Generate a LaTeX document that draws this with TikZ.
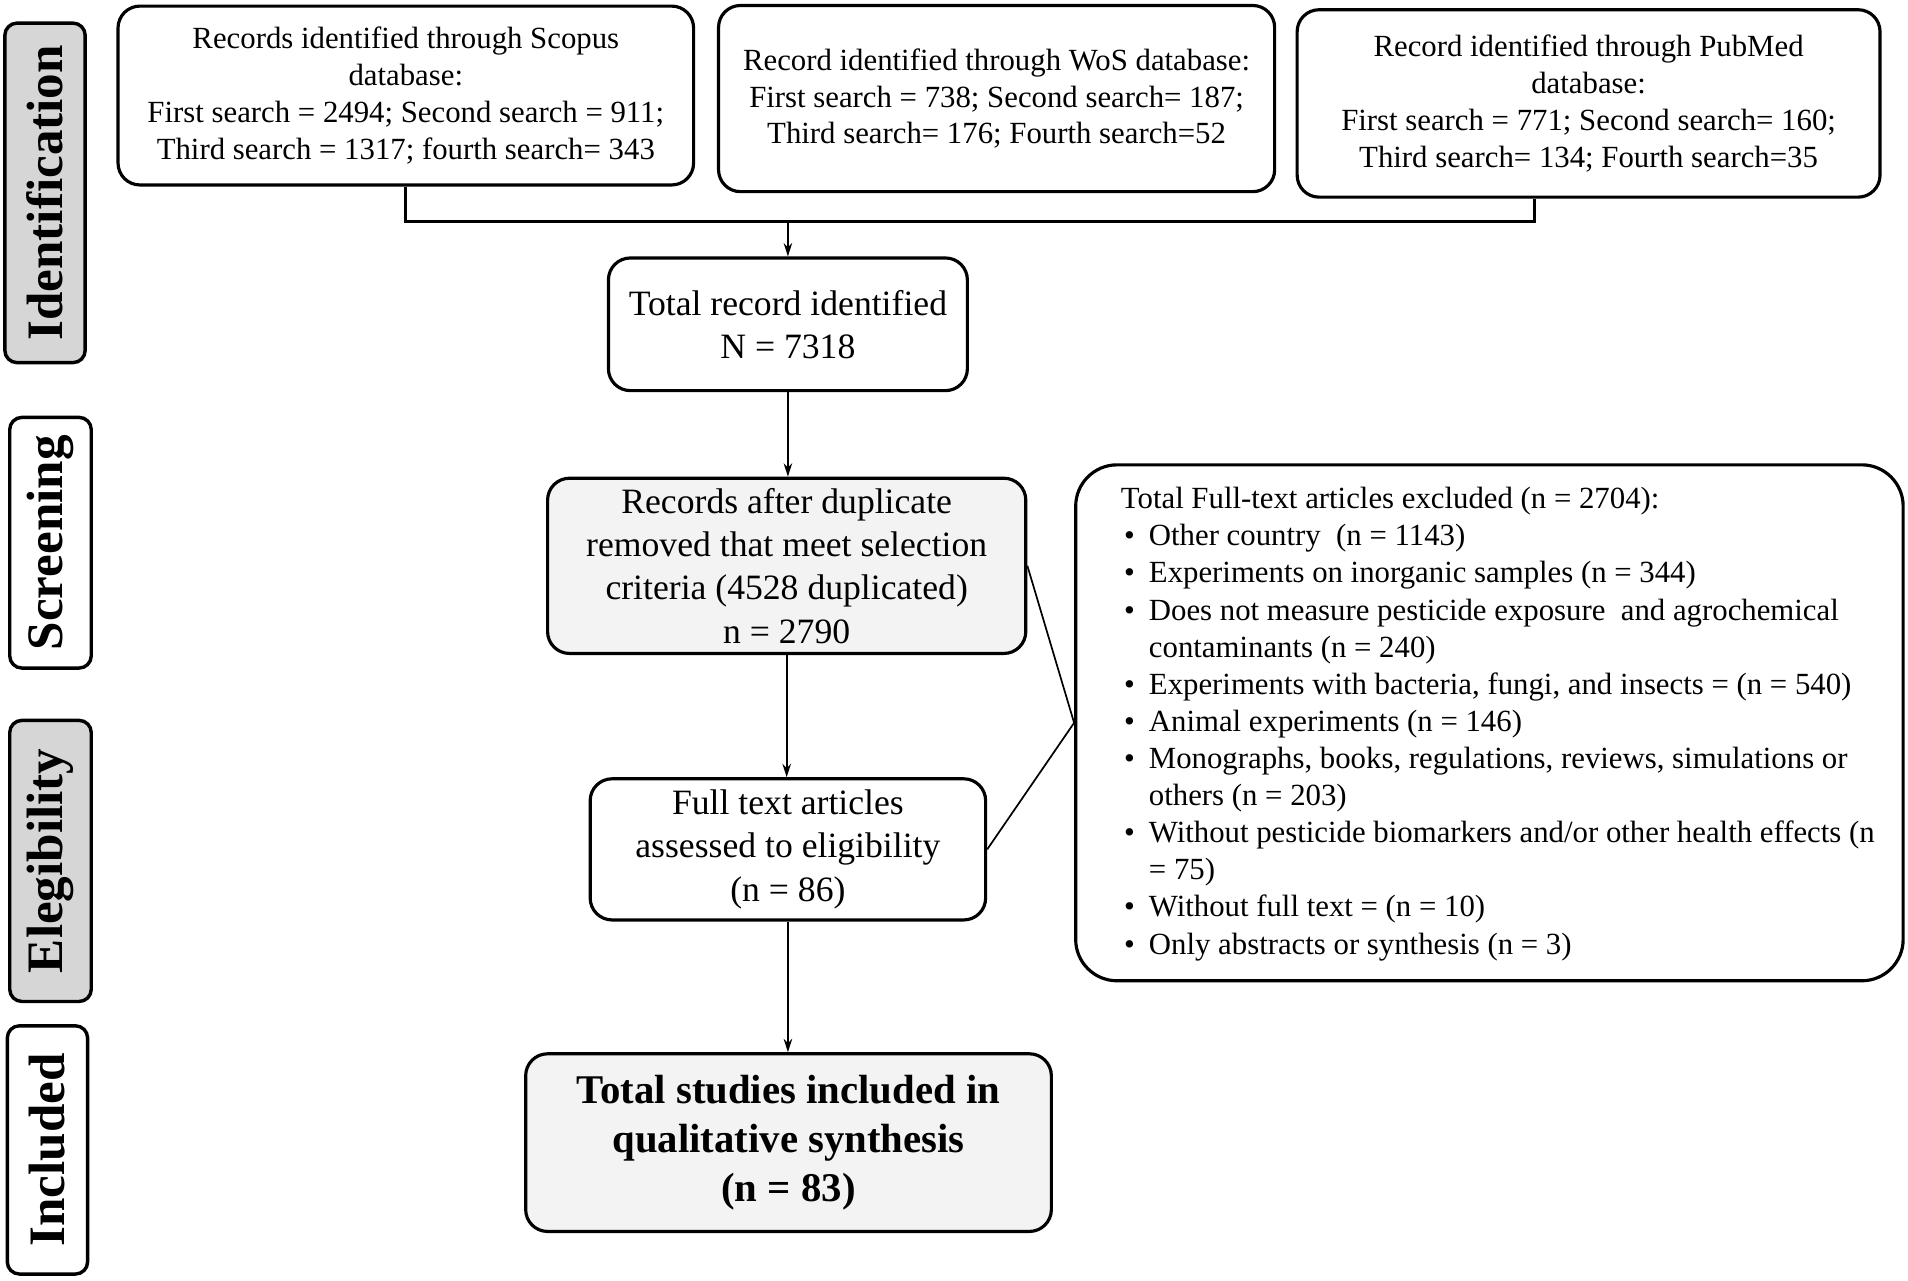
\documentclass[tikz,border=0pt]{standalone}
\usepackage{fontspec}
\setmainfont{Liberation Serif}
\usetikzlibrary{arrows.meta}
\definecolor{sidegray}{HTML}{D6D6D6}
\definecolor{lightfill}{HTML}{F3F3F3}
\newcommand\bul{\hspace*{2.5pt}\makebox[20.5pt][l]{\textbullet}}
\newcommand\ind{\hspace*{23pt}}
\begin{document}
\begin{tikzpicture}[x=1pt,y=-1pt,
  box/.style={draw=black, line width=2.6pt, rounded corners=18pt, fill=white,
    align=center, inner sep=0pt, font=\fontsize{25.3}{30.3}\selectfont},
  bigbox/.style={box, font=\fontsize{29.3}{35.5}\selectfont},
  side/.style={draw=black, line width=2.8pt, rounded corners=10pt, inner sep=0pt,
    font=\bfseries\fontsize{42}{42}\selectfont, rotate=90},
  arr/.style={-{Stealth[length=11pt,width=7pt]}, line width=1.4pt},
  joinline/.style={line width=2.2pt}]
\useasboundingbox (0,0) rectangle (1568,1052.7);

% side labels
\node[side, fill=sidegray, minimum width=279pt, minimum height=66pt] (id) at (37,158.5) {Identification};
\node[side, fill=white, minimum width=206pt, minimum height=67pt] (sc) at (41.5,446) {Screening};
\node[side, fill=sidegray, minimum width=231pt, minimum height=67pt] (el) at (41.5,707.5) {Elegibility};
\node[side, fill=white, minimum width=204pt, minimum height=66pt] (in) at (39,945) {Included};

% identification boxes
\node[box, minimum width=473pt, minimum height=147pt] (A) at (333.5,78.5)
  {Records identified through Scopus\\database:\\First search = 2494; Second search = 911;\\Third search = 1317; fourth search= 343};
\node[box, minimum width=457pt, minimum height=153pt] (B) at (819,81)
  {Record identified through WoS database:\\First search = 738; Second search= 187;\\Third search= 176; Fourth search=52};
\node[box, minimum width=479pt, minimum height=154pt] (C) at (1305.5,85)
  {Record identified through PubMed\\database:\\First search = 771; Second search= 160;\\Third search= 134; Fourth search=35};

\node[bigbox, minimum width=295pt, minimum height=109pt] (D) at (647.5,266.5)
  {Total record identified\\N = 7318};
\node[bigbox, fill=lightfill, minimum width=393pt, minimum height=144pt] (E) at (646.5,465)
  {Records after duplicate\\removed that meet selection\\criteria (4528 duplicated)\\n = 2790};
\node[bigbox, minimum width=325pt, minimum height=116pt] (F) at (647.5,698)
  {Full text articles\\assessed to eligibility\\(n = 86)};
\node[box, fill=lightfill, minimum width=432pt, minimum height=146pt,
  font=\bfseries\fontsize{33.5}{40.6}\selectfont] (H) at (648,939)
  {Total studies included in\\qualitative synthesis\\(n = 83)};

% excluded box
\node[draw=black, line width=2.6pt, rounded corners=34pt, fill=white,
  minimum width=680pt, minimum height=424pt, inner sep=0pt] (G) at (1224,594) {};
\node[anchor=west, align=left, inner sep=0pt, font=\fontsize{25.3}{30.5}\selectfont] (Gt) at (921,595)
  {Total Full-text articles excluded (n = 2704):\\
   \bul Other country\ \ (n = 1143)\\
   \bul Experiments on inorganic samples (n = 344)\\
   \bul Does not measure pesticide exposure\ \ and agrochemical\\
   \ind contaminants (n = 240)\\
   \bul Experiments with bacteria, fungi, and insects = (n = 540)\\
   \bul Animal experiments (n = 146)\\
   \bul Monographs, books, regulations, reviews, simulations or\\
   \ind others (n = 203)\\
   \bul Without pesticide biomarkers and/or other health effects (n\\
   \ind = 75)\\
   \bul Without full text = (n = 10)\\
   \bul Only abstracts or synthesis (n = 3)};

% connectors
\coordinate (j1) at (333.5,182);
\coordinate (j2) at (1261,182);
\draw[joinline] (A.south) -- (j1) -- (j2) -- (j2 |- C.south);
\draw[arr] (j1 -| D.north) -- (D.north);
\draw[arr] (D.south) -- (D.south |- E.north);
\draw[arr] (E.south) -- (E.south |- F.north);
\draw[arr] (F.south) -- (F.south |- H.north);
\draw[line width=1.4pt] (E.east) -- (G.west) -- (F.east);
\end{tikzpicture}
\end{document}
